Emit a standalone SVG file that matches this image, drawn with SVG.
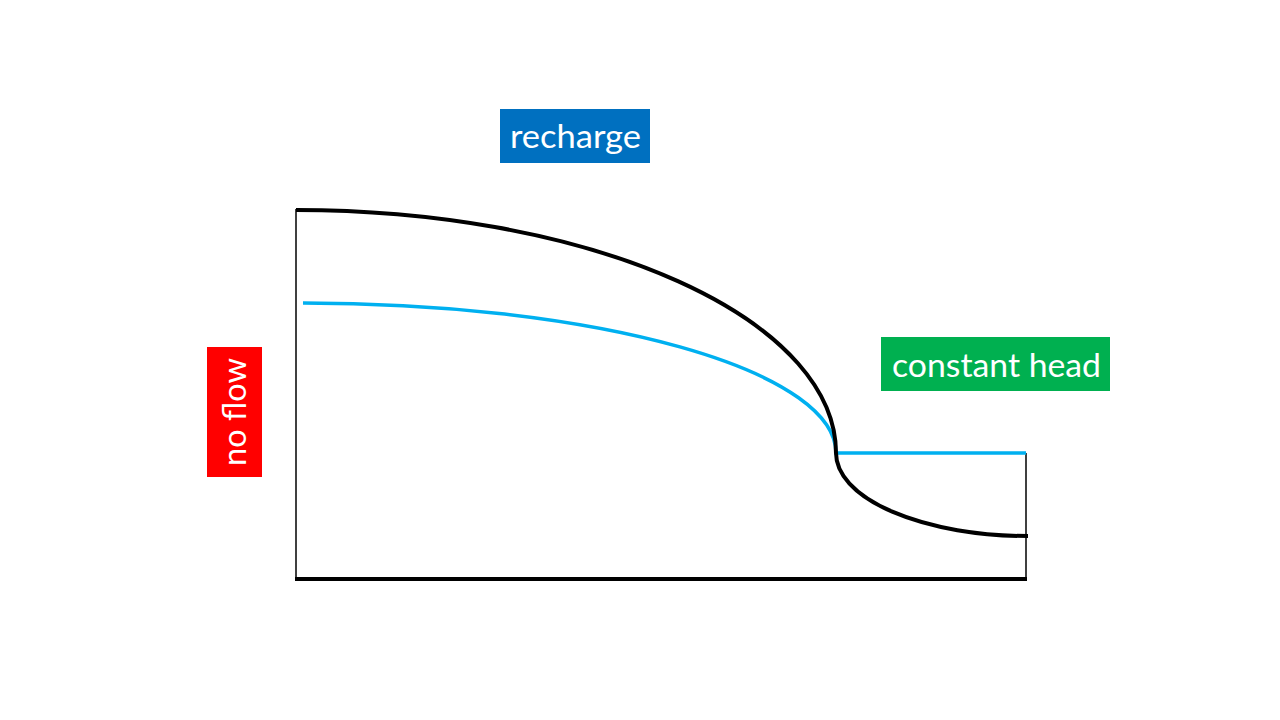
<svg xmlns="http://www.w3.org/2000/svg" width="1280" height="720" viewBox="0 0 1280 720">
<style>
.lbl{font-family:Lato,"Open Sans","Liberation Sans",sans-serif;font-size:33px;fill:#fff}
.thin{stroke:#000;stroke-width:1.5;fill:none}
.black{stroke:#000;stroke-width:4;fill:none}
.blue{stroke:#00B0F0;stroke-width:3.5;fill:none}
</style>
<rect width="1280" height="720" fill="#fff"/>
<g id="axes">
<line class="thin" x1="296" y1="209" x2="296" y2="580"/>
<line class="thin" x1="1026" y1="453" x2="1026" y2="580"/>
<line x1="295" y1="579" x2="1027" y2="579" stroke="#000" stroke-width="4"/>
</g>
<g id="curves">
<path class="blue" d="M303,303 A533,150 0 0 1 836,453 L1026,453"/>
<path class="black" d="M296,210 A540,243 0 0 1 836,453 A192,83 0 0 0 1028,536"/>
</g>
<g id="recharge">
<rect x="500" y="109" width="150" height="54" fill="#0070C0"/>
<text class="lbl" x="510" y="148" textLength="131" lengthAdjust="spacingAndGlyphs">recharge</text>
</g>
<g id="constant-head">
<rect x="881" y="337" width="229" height="54" fill="#00B050"/>
<text class="lbl" x="892" y="377" textLength="209" lengthAdjust="spacingAndGlyphs">constant head</text>
</g>
<g id="no-flow">
<rect x="207" y="347" width="55" height="130" fill="#FF0000"/>
<text class="lbl" transform="translate(246,466) rotate(-90)" x="0" y="0" textLength="108" lengthAdjust="spacingAndGlyphs">no flow</text>
</g>
</svg>
